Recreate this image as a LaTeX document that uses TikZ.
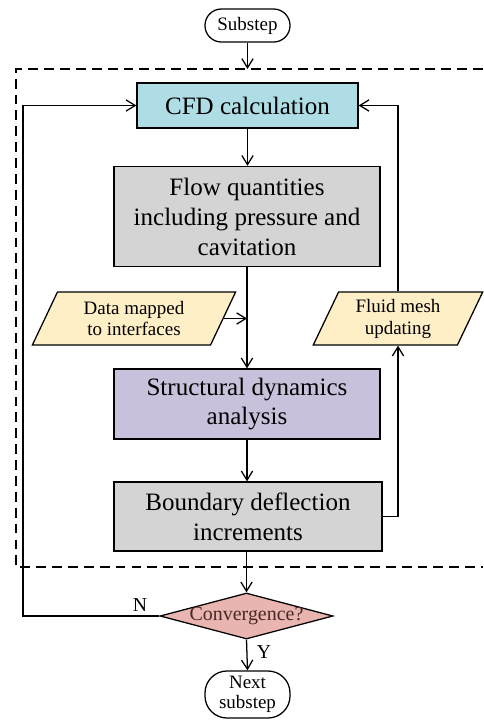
\documentclass[tikz,border=0pt]{standalone}
\usepackage{fontspec}
\setmainfont{Liberation Serif}
\usepackage{xcolor}
\usetikzlibrary{positioning, calc, arrows.meta, shapes.geometric}
\definecolor{CfdBlue}{HTML}{AEDDE6}
\definecolor{FlowGray}{HTML}{D4D4D4}
\definecolor{MapCream}{HTML}{FFEFC6}
\definecolor{SolidLilac}{HTML}{C9C1DC}
\definecolor{CheckRose}{HTML}{E8B5B0}
\definecolor{CheckInk}{HTML}{4A2828}

\begin{document}
\begin{tikzpicture}[x=0.025cm, y=-0.025cm, line width=0.9pt,
    box/.style={draw, rectangle, align=center, inner sep=2pt, font=\fontsize{17.8}{21.3}\selectfont},
    io/.style={draw, trapezium, trapezium left angle=66, trapezium right angle=114,
      trapezium stretches=true, align=center, inner sep=1pt, minimum height=1.325cm,
      fill=MapCream, font=\fontsize{13.5}{15.6}\selectfont},
    term/.style={draw, rectangle, align=center, inner sep=1pt, minimum width=2.125cm,
      font=\fontsize{13.5}{14}\selectfont},
    flow/.style={-{Straight Barb[length=6.5pt, width=8pt]}}]
  \useasboundingbox (0,0) rectangle (483,726);
  % dashed frame of the coupling loop (open to the right)
  \draw[dash pattern=on 7pt off 4.3pt] (483,69) -- (16,69) -- (16,567) -- (483,567);
  % terminals
  \node[term, rounded corners=0.41cm, minimum height=0.825cm] (sub) at (247.5,25.5) {Substep};
  \node[term, rounded corners=0.55cm, minimum height=1.175cm] (next) at (247.5,694.5) {Next\\substep};
  % main column
  \node[box, fill=CfdBlue, minimum width=5.525cm, minimum height=1.125cm] (cfd) at (247.5,105.5) {CFD calculation};
  \node[box, fill=FlowGray, minimum width=6.65cm, minimum height=2.5cm] (flow) at (247,216.5)
    {Flow quantities\\including pressure and\\cavitation};
  \node[box, fill=SolidLilac, minimum width=6.65cm, minimum height=1.75cm] (struct) at (247,404)
    {Structural dynamics\\analysis};
  \node[box, fill=FlowGray, minimum width=6.7cm, minimum height=1.725cm] (bound) at (248,516.5)
    {Boundary deflection\\increments};
  \node[draw, diamond, aspect=3.76, fill=CheckRose, minimum width=4.325cm, minimum height=1.15cm,
    inner sep=0pt, text=CheckInk, font=\fontsize{14.2}{14}\selectfont] (conv) at (246.5,616) {\makebox[0pt]{Convergence?}};
  % data exchange
  \node[io, minimum width=5.1cm] (data) at (134,318.5) {Data mapped\\to interfaces};
  \node[io, minimum width=4.25cm] (mesh) at (398,318.5) {Fluid mesh\\updating};
  % helper points
  \coordinate (entry) at (247.5,69);
  \coordinate (back) at (23,616);
  % connectors
  \draw[flow] (sub) -- (entry);
  \draw[flow] (cfd) -- (cfd |- flow.north);
  \draw[flow] (flow.south) -- (struct.north);
  \draw[flow] (data.east) -- (flow.south |- data.east);
  \draw[flow] (struct) -- (struct |- bound.north);
  \draw[flow] (bound.south -| conv.north) -- (conv.north);
  \draw[flow] (bound.east) -| (mesh.center |- mesh.south);
  \draw[flow] (mesh.center |- mesh.north) |- (cfd.east);
  \draw[flow] (conv.west) -- (back) |- (cfd.west);
  \draw[flow] (conv.south) -- (next.north);
  % branch labels
  \node[font=\fontsize{14}{14}\selectfont] (nlab) at (140,605) {N};
  \node[font=\fontsize{14}{14}\selectfont] (ylab) at (264,652) {Y};
\end{tikzpicture}
\end{document}
